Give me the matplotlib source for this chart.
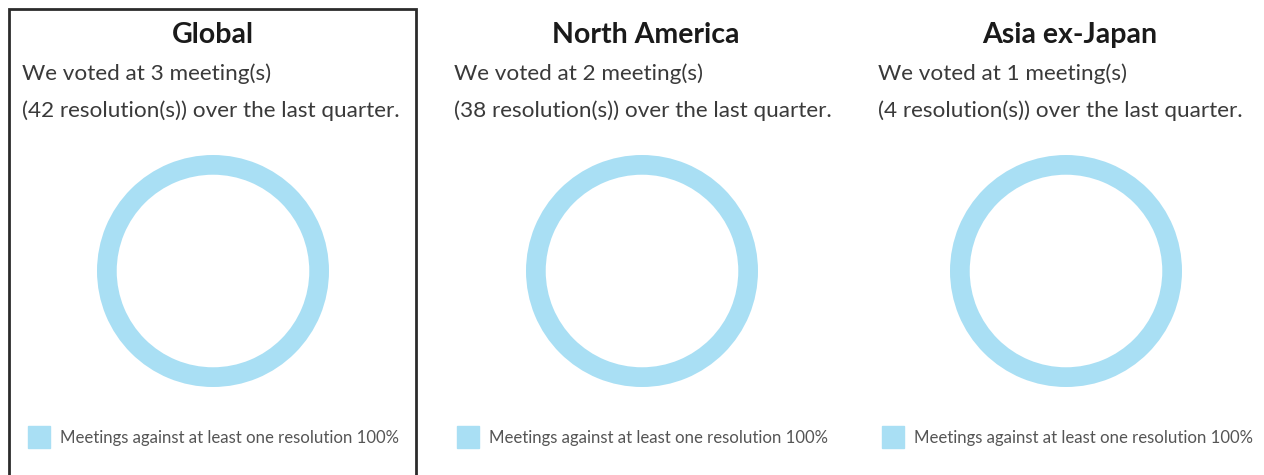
import matplotlib.pyplot as plt
from matplotlib.patches import Rectangle

# Data
regions = ["Global", "North America", "Asia ex-Japan"]
meetings = [3, 2, 1]
resolutions = [42, 38, 4]
against_pct = [100, 100, 100]

RING_COLOR = "#a9dff4"
TEXT_COLOR = "#3a3a3a"
FONT = ["Lato", "DejaVu Sans"]

W, H = 1264, 475
fig = plt.figure(figsize=(W / 100, H / 100), dpi=100)
fig.patch.set_facecolor("white")

centers_x = [213, 642, 1066]
title_x = [213, 646, 1070]
text_left = [22, 454, 878]
legend_left = [28, 457, 882]
cy = 271
r_px = 116

# Box around the Global panel (open at the bottom)
box = fig.add_axes([0, 0, 1, 1], facecolor="none")
box.set_xlim(0, W)
box.set_ylim(H, 0)
box.axis("off")
box.plot([9, 9, 416, 416], [H + 5, 9, 9, H + 5], color="#2b2b2b", lw=2,
         solid_joinstyle="miter")

for i, region in enumerate(regions):
    ax = fig.add_axes([(centers_x[i] - r_px) / W, (H - cy - r_px) / H,
                       2 * r_px / W, 2 * r_px / H])
    ax.pie([against_pct[i]], colors=[RING_COLOR], startangle=90,
           wedgeprops=dict(width=0.17, edgecolor="none"))
    ax.set_xlim(-1, 1)
    ax.set_ylim(-1, 1)
    ax.set_aspect("equal")
    ax.axis("off")

    box.text(title_x[i], 35, region, ha="center", va="center",
             fontsize=20.5, fontweight="bold", color="#1a1a1a", family=FONT)
    box.text(text_left[i], 74, f"We voted at {meetings[i]} meeting(s)",
             ha="left", va="center", fontsize=16.2, fontweight=400,
             color=TEXT_COLOR, family=FONT)
    box.text(text_left[i], 111,
             f"({resolutions[i]} resolution(s)) over the last quarter.",
             ha="left", va="center", fontsize=16.2, fontweight=400,
             color=TEXT_COLOR, family=FONT)

    box.add_patch(Rectangle((legend_left[i], 426), 22, 22, color=RING_COLOR))
    box.text(legend_left[i] + 32, 438,
             f"Meetings against at least one resolution {against_pct[i]}%",
             ha="left", va="center", fontsize=12.1, fontweight=400,
             color="#555555", family=FONT)

fig.savefig("out.png", dpi=100)
